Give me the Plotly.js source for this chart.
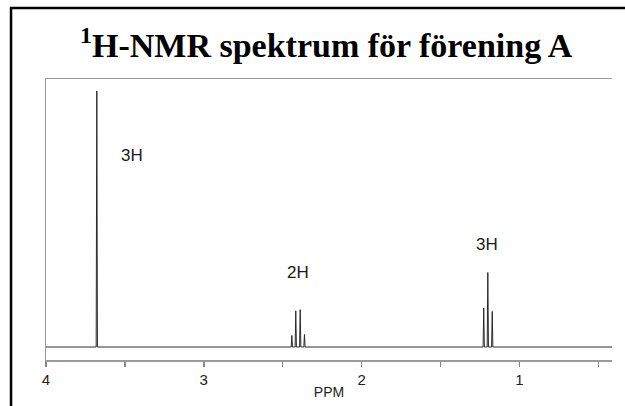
<!DOCTYPE html>
<html>
<head>
<meta charset="utf-8">
<script src="https://cdn.plot.ly/plotly-3.0.1.min.js"></script>
<style>html,body{margin:0;padding:0;background:#fff;}#chart{width:625px;height:406px;}</style>
</head>
<body>
<div id="chart"></div>
<script>
// Peak positions (ppm) and relative intensities
const peakPPM       = [3.678, 2.442, 2.417, 2.389, 2.362, 1.226, 1.200, 1.172];
const peakIntensity = [100,   4.5,   14.1,  14.6,  4.9,   15.2,  29.1,  13.9];
const ppmStart = 4.0;
const ppmEnd = 0.41;

// Integration labels
const labelText = ['3H', '2H', '3H'];
const labelPPM  = [3.458, 2.40, 1.203];
const labelY    = [75, 29, 40.2];

const tickVals = [4, 3.5, 3, 2.5, 2, 1.5, 1, 0.5];
const tickText = ['4', ' ', '3', ' ', '2', ' ', '1', ' '];

// Build stick-style spectrum line (baseline with narrow peaks)
const hw = 0.004;
const xs = [ppmStart], ys = [0];
const order = peakPPM.map((p, i) => i).sort((a, b) => peakPPM[b] - peakPPM[a]);
for (const i of order) {
  xs.push(peakPPM[i] + hw, peakPPM[i], peakPPM[i] - hw);
  ys.push(0, peakIntensity[i], 0);
}
xs.push(ppmEnd); ys.push(0);

const trace = {
  x: xs, y: ys, type: 'scatter', mode: 'lines',
  line: {color: '#2a2a2a', width: 1},
  hoverinfo: 'skip', showlegend: false
};

const annotations = labelText.map((t, i) => ({
  x: labelPPM[i], y: labelY[i], xref: 'x', yref: 'y',
  text: t, showarrow: false,
  font: {family: 'Liberation Sans, Arial, sans-serif', size: 17, color: '#1a1a1a'}
}));

const layout = {
  width: 625, height: 406,
  margin: {l: 46, r: 13, t: 79, b: 46, pad: 0},
  paper_bgcolor: '#fff', plot_bgcolor: '#fff',
  title: {
    text: '<b><sup>1</sup>H-NMR spektrum för förening A</b>',
    font: {family: 'Liberation Serif, Times New Roman, serif', size: 34, color: '#000'},
    x: 0.522, xanchor: 'center', xref: 'container',
    y: 1 - 45 / 406, yanchor: 'middle', yref: 'container'
  },
  xaxis: {
    range: [4, 0.413], autorange: false,
    tickvals: tickVals, ticktext: tickText,
    ticks: 'outside', ticklen: 5, tickwidth: 1.5, tickcolor: '#888',
    showline: true, linecolor: '#9a9a9a', linewidth: 1.5, mirror: true,
    showgrid: false, zeroline: false,
    tickfont: {family: 'Liberation Sans, Arial, sans-serif', size: 15, color: '#222'},
    title: {text: 'PPM', standoff: 0,
      font: {family: 'Liberation Sans, Arial, sans-serif', size: 14, color: '#222'}}
  },
  yaxis: {
    range: [-5.08, 104.69], autorange: false,
    showticklabels: false, ticks: '',
    showline: true, linecolor: '#9a9a9a', linewidth: 1.5, mirror: false,
    showgrid: false, zeroline: false
  },
  shapes: [{
    type: 'path', xref: 'paper', yref: 'paper',
    path: 'M -0.0618,-0.3 L -0.0618,1.2527 L 1.1,1.2527',
    line: {color: '#000', width: 2.5}
  }],
  annotations: annotations
};

Plotly.newPlot('chart', [trace], layout, {displayModeBar: false, staticPlot: true});
</script>
</body>
</html>
